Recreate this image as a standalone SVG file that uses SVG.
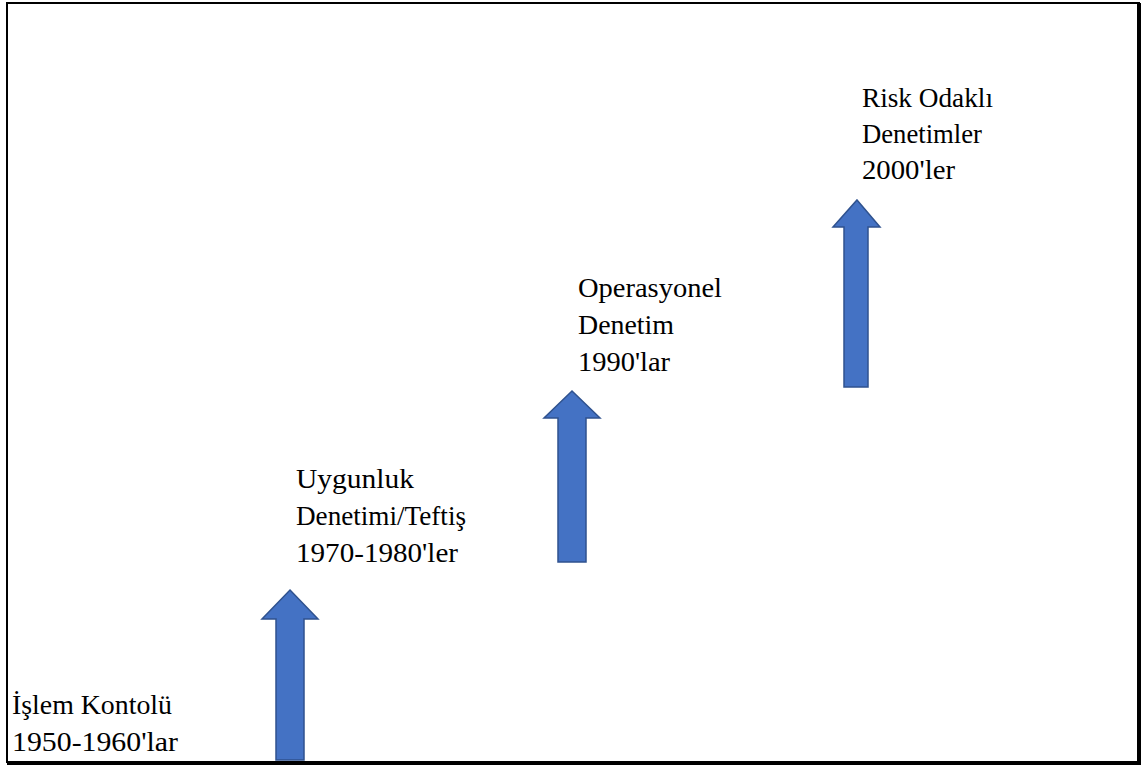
<svg xmlns="http://www.w3.org/2000/svg" width="1147" height="765" viewBox="0 0 1147 765">
<style>
.lbl{font-family:"Liberation Serif","Times New Roman",serif;font-size:28px;fill:#000}
.arr{fill:#4472C4;stroke:#2F528F;stroke-width:1.5}
</style>
<rect x="0" y="0" width="1147" height="765" fill="#fff"/>
<g id="frame">
<rect x="7" y="3" width="1132" height="759" fill="none" stroke="#000" stroke-width="2"/>
<rect x="1137" y="3" width="4" height="762" fill="#000"/>
<rect x="7" y="761" width="1134" height="4" fill="#000"/>
</g>
<g id="connectors">
<polygon id="arrow1" class="arr" points="290,590 318,619 304,619 304,760 276,760 276,619 262,619"/>
<polygon id="arrow2" class="arr" points="572,391 600,418 586,418 586,562 558,562 558,418 544,418"/>
<polygon id="arrow3" class="arr" points="857,200 880,227 868,227 868,387 844,387 844,227 833,227"/>
</g>
<g id="node1"><text class="lbl" x="12" y="714" textLength="160" lengthAdjust="spacingAndGlyphs">İşlem Kontolü</text><text class="lbl" x="12" y="751" textLength="166" lengthAdjust="spacingAndGlyphs">1950-1960'lar</text></g>
<g id="node2"><text class="lbl" x="296" y="488" textLength="118" lengthAdjust="spacingAndGlyphs">Uygunluk</text><text class="lbl" x="296" y="525" textLength="170" lengthAdjust="spacingAndGlyphs">Denetimi/Teftiş</text><text class="lbl" x="296" y="562" textLength="162" lengthAdjust="spacingAndGlyphs">1970-1980'ler</text></g>
<g id="node3"><text class="lbl" x="578" y="297" textLength="144" lengthAdjust="spacingAndGlyphs">Operasyonel</text><text class="lbl" x="578" y="334" textLength="96" lengthAdjust="spacingAndGlyphs">Denetim</text><text class="lbl" x="578" y="371" textLength="92" lengthAdjust="spacingAndGlyphs">1990'lar</text></g>
<g id="node4"><text class="lbl" x="862" y="107" textLength="131" lengthAdjust="spacingAndGlyphs">Risk Odaklı</text><text class="lbl" x="862" y="143" textLength="120" lengthAdjust="spacingAndGlyphs">Denetimler</text><text class="lbl" x="862" y="179" textLength="93" lengthAdjust="spacingAndGlyphs">2000'ler</text></g>
</svg>
